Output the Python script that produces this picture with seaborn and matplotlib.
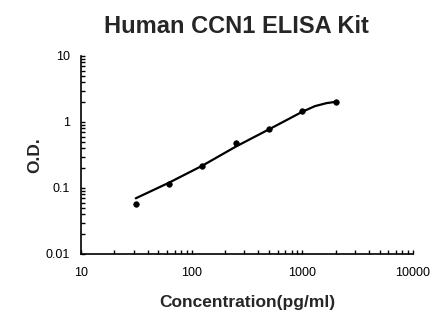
import numpy as np
import pandas as pd
import seaborn as sns
import matplotlib
matplotlib.use("Agg")
import matplotlib.pyplot as plt
from matplotlib.ticker import LogLocator, FixedLocator, FixedFormatter, NullFormatter

sns.set_style("ticks")
plt.rcParams["font.family"] = ["Liberation Sans", "DejaVu Sans"]

# standard points
conc = [31.25, 62.5, 125, 250, 500, 1000, 2000]
od = [0.057, 0.115, 0.218, 0.48, 0.775, 1.48, 2.02]

# fitted curve
curve_x = [31.25, 62.5, 125, 250, 500, 1000, 1300, 1650, 2000]
curve_y = [0.0698, 0.1205, 0.218, 0.423, 0.774, 1.43, 1.74, 1.93, 2.02]

x_ticks = [10, 100, 1000, 10000]
x_labels = ["10", "100", "1000", "10000"]
y_ticks = [0.01, 0.1, 1, 10]
y_labels = ["0.01", "0.1", "1", "10"]

pts = pd.DataFrame({"conc": conc, "od": od})
fit = pd.DataFrame({"conc": curve_x, "od": curve_y})

fig = plt.figure(figsize=(4.46, 3.26), dpi=100)
ax = fig.add_axes([81 / 446, 72 / 326, 332 / 446, 198 / 326])

sns.lineplot(data=fit, x="conc", y="od", ax=ax, color="black", linewidth=1.6,
             sort=True, estimator=None)
sns.scatterplot(data=pts, x="conc", y="od", ax=ax, color="black", s=16,
                edgecolor="black", linewidth=0.5, zorder=3)

ax.set_xscale("log")
ax.set_yscale("log")
ax.set_xlim(10, 10000)
ax.set_ylim(0.01, 10)

ax.xaxis.set_major_locator(FixedLocator(x_ticks))
ax.xaxis.set_major_formatter(FixedFormatter(x_labels))
ax.yaxis.set_major_locator(FixedLocator(y_ticks))
ax.yaxis.set_major_formatter(FixedFormatter(y_labels))
ax.xaxis.set_minor_locator(LogLocator(base=10, subs=np.arange(2, 10)))
ax.yaxis.set_minor_locator(LogLocator(base=10, subs=np.arange(2, 10)))
ax.xaxis.set_minor_formatter(NullFormatter())
ax.yaxis.set_minor_formatter(NullFormatter())

ax.tick_params(which="both", direction="in", length=3, width=1, colors="black",
               labelsize=9)
ax.tick_params(axis="x", which="major", pad=9)
ax.tick_params(axis="y", which="major", pad=8)

sns.despine(ax=ax)
for side in ["left", "bottom"]:
    ax.spines[side].set_linewidth(1.2)
    ax.spines[side].set_color("black")

ax.set_xlabel("Concentration(pg/ml)", fontsize=12.5, fontweight="bold", labelpad=12)
ax.set_ylabel("O.D.", fontsize=12.5, fontweight="bold", labelpad=2)
fig.suptitle("Human CCN1 ELISA Kit", x=236 / 446, y=0.955, fontsize=17,
             fontweight="bold")

fig.savefig("out.png", dpi=100)
